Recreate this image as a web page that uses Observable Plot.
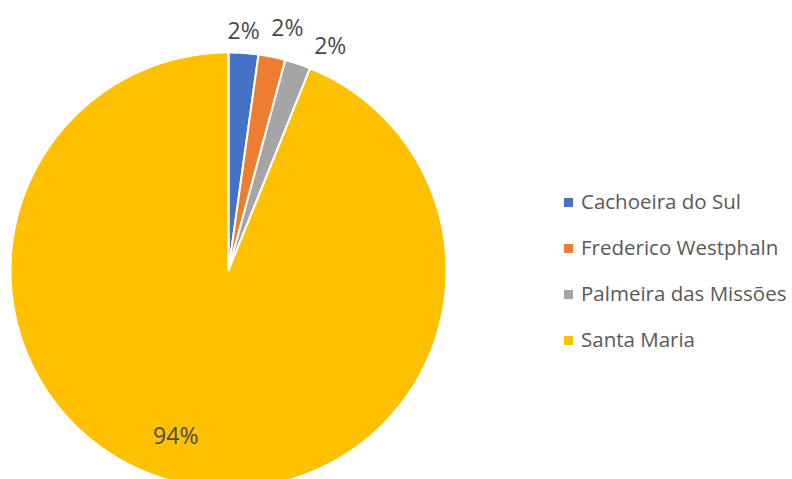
<!DOCTYPE html>
<html><head><meta charset="utf-8">
<script src="https://cdn.jsdelivr.net/npm/d3@7"></script>
<script src="https://cdn.jsdelivr.net/npm/@observablehq/plot@0.6"></script>
<style>
body{margin:0;background:#fff;font-family:"Open Sans",sans-serif;}
#wrap{position:relative;width:792px;height:479px;overflow:hidden;}
#legend{position:absolute;left:564px;top:187px;}
.row{position:absolute;left:0;white-space:nowrap;height:28px;line-height:28px;font-size:20.5px;color:#595959;}
.sw{display:inline-block;width:9px;height:9px;margin-right:8px;vertical-align:middle;position:relative;top:-1px;}
</style></head>
<body><div id="wrap"></div>
<script>
const categories = ["Cachoeira do Sul", "Frederico Westphaln", "Palmeira das Missões", "Santa Maria"];
const values = [2.2, 2.0, 1.9, 93.9];
const labels = ["2%", "2%", "2%", "94%"];
const colors = ["#4472C4", "#ED7D31", "#A5A5A5", "#FFC000"];

// layout (label placement: angle in degrees clockwise from top, radius factor)
const labelAngle = [3.6, 13.7, 24.4, 197.6];
const labelRadius = [1.10, 1.14, 1.13, 0.80];

const W = 792, H = 479, R = 218, cx = 228, cy = 270;
const total = d3.sum(values);
const slices = [];
let acc = 0;
values.forEach((v, i) => {
  const a0 = acc / total * 360, a1 = (acc + v) / total * 360;
  acc += v;
  const pts = [{c: categories[i], x: 0, y: 0}];
  const n = Math.max(2, Math.ceil(a1 - a0));
  for (let k = 0; k <= n; k++) {
    const a = (a0 + (a1 - a0) * k / n) * Math.PI / 180;
    pts.push({c: categories[i], x: Math.sin(a), y: Math.cos(a)});
  }
  pts.push({c: categories[i], x: 0, y: 0});
  slices.push(...pts);
});
const labelData = labels.map((t, i) => {
  const a = labelAngle[i] * Math.PI / 180;
  return {t, x: labelRadius[i] * Math.sin(a), y: labelRadius[i] * Math.cos(a)};
});

const chart = Plot.plot({
  width: W, height: H,
  margin: 0,
  x: {domain: [-cx / R, (W - cx) / R], range: [0, W], axis: null},
  y: {domain: [-(H - cy) / R, cy / R], range: [H, 0], axis: null},
  color: {domain: categories, range: colors},
  style: {fontFamily: "'Open Sans', sans-serif", background: "#fff"},
  marks: [
    Plot.line(slices, {x: "x", y: "y", z: "c", fill: "c", stroke: "#fff", strokeWidth: 2, strokeLinejoin: "round"}),
    Plot.text(labelData, {x: "x", y: "y", text: "t", fontSize: 23, fill: "#4a4a4a"})
  ]
});
const wrap = document.getElementById("wrap");
wrap.appendChild(chart);
const leg = document.createElement("div");
leg.id = "legend";
categories.forEach((c, i) => {
  const row = document.createElement("div");
  row.className = "row";
  row.style.top = (i * 46) + "px";
  row.innerHTML = `<span class="sw" style="background:${colors[i]}"></span>${c}`;
  leg.appendChild(row);
});
wrap.appendChild(leg);
</script>
</body></html>
